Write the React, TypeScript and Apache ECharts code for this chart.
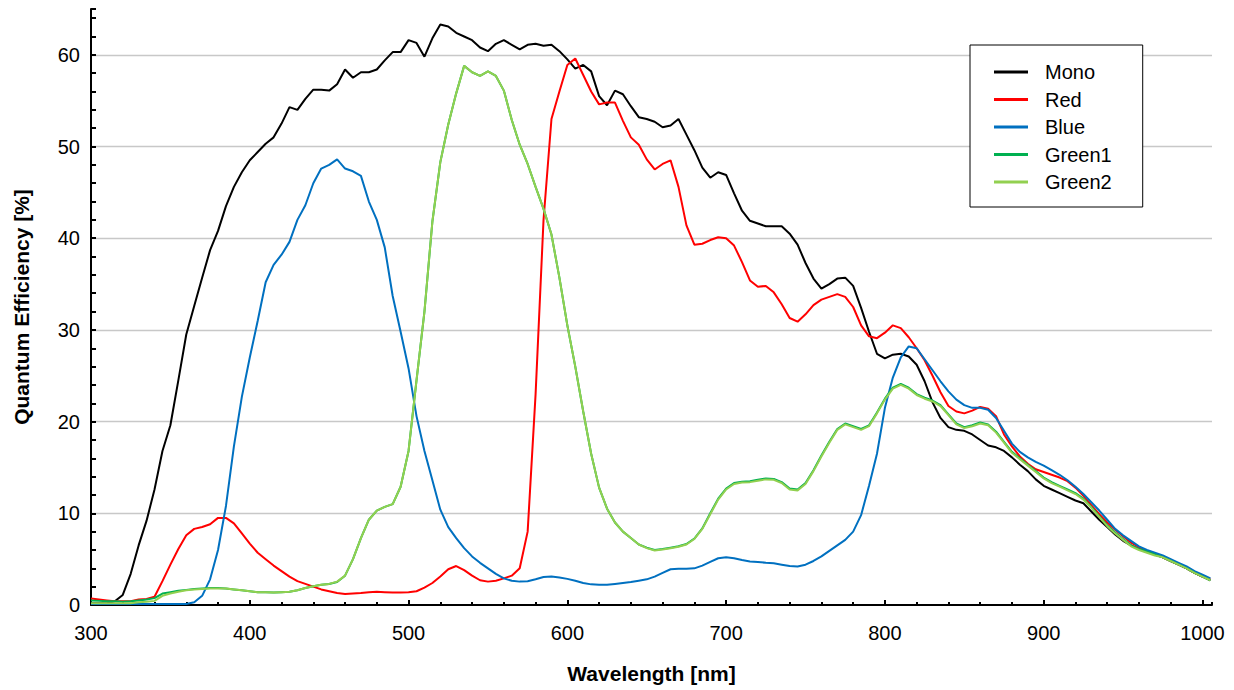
import React, { useEffect, useRef } from "react";
import * as echarts from "echarts";

const wavelengths = [
  300, 305, 310, 315, 320, 325, 330, 335, 340, 345, 350, 355, 360, 365, 370, 375, 380, 385, 390, 395,
  400, 405, 410, 415, 420, 425, 430, 435, 440, 445, 450, 455, 460, 465, 470, 475, 480, 485, 490, 495,
  500, 505, 510, 515, 520, 525, 530, 535, 540, 545, 550, 555, 560, 565, 570, 575, 580, 585, 590, 595,
  600, 605, 610, 615, 620, 625, 630, 635, 640, 645, 650, 655, 660, 665, 670, 675, 680, 685, 690, 695,
  700, 705, 710, 715, 720, 725, 730, 735, 740, 745, 750, 755, 760, 765, 770, 775, 780, 785, 790, 795,
  800, 805, 810, 815, 820, 825, 830, 835, 840, 845, 850, 855, 860, 865, 870, 875, 880, 885, 890, 895,
  900, 905, 910, 915, 920, 925, 930, 935, 940, 945, 950, 955, 960, 965, 970, 975, 980, 985, 990, 995,
  1000, 1005,
];

const mono = [
  0.2, 0.2, 0.2, 0.4, 1.1, 3.4, 6.5, 9.2, 12.6, 16.8, 19.6, 24.5, 29.5, 32.6, 35.7, 38.7, 40.8, 43.5, 45.6, 47.2,
  48.5, 49.4, 50.3, 51.0, 52.5, 54.3, 54.0, 55.2, 56.2, 56.2, 56.1, 56.8, 58.4, 57.5, 58.1, 58.1, 58.4, 59.4, 60.3, 60.3,
  61.6, 61.3, 59.8, 61.8, 63.3, 63.1, 62.4, 62.0, 61.6, 60.8, 60.4, 61.2, 61.6, 61.1, 60.6, 61.1, 61.2, 61.0, 61.1, 60.4,
  59.5, 58.5, 58.9, 58.2, 55.5, 54.5, 56.1, 55.7, 54.4, 53.2, 53.0, 52.7, 52.1, 52.3, 53.0, 51.3, 49.6, 47.7, 46.6, 47.2,
  46.9, 44.9, 43.0, 41.9, 41.6, 41.3, 41.3, 41.3, 40.5, 39.3, 37.3, 35.6, 34.5, 35.0, 35.6, 35.7, 34.8, 32.4, 29.8, 27.4,
  26.9, 27.3, 27.4, 27.1, 26.2, 24.4, 22.1, 20.4, 19.4, 19.1, 19.0, 18.6, 18.0, 17.4, 17.2, 16.8, 16.1, 15.3, 14.6, 13.7,
  13.0, 12.6, 12.2, 11.8, 11.4, 11.1, 10.2, 9.3, 8.5, 7.7, 7.0, 6.5, 6.1, 5.8, 5.5, 5.2, 4.8, 4.4, 4.0, 3.5,
  3.1, 2.7,
];

const red = [
  0.7, 0.6, 0.5, 0.4, 0.4, 0.4, 0.6, 0.65, 0.9, 2.6, 4.4, 6.1, 7.6, 8.3, 8.5, 8.8, 9.5, 9.5, 8.9, 7.8,
  6.7, 5.7, 5.0, 4.3, 3.7, 3.1, 2.6, 2.3, 2.0, 1.7, 1.5, 1.3, 1.2, 1.25, 1.3, 1.4, 1.45, 1.4, 1.35, 1.35,
  1.4, 1.5, 1.9, 2.4, 3.1, 3.9, 4.25, 3.8, 3.2, 2.7, 2.55, 2.65, 2.9, 3.2, 4.0, 8.0, 23.0, 42.0, 53.0, 56.0,
  58.9, 59.6, 57.8, 56.0, 54.6, 54.8, 54.8, 52.8, 51.0, 50.2, 48.6, 47.5, 48.1, 48.5, 45.6, 41.4, 39.3, 39.4, 39.8, 40.1,
  40.0, 39.2, 37.4, 35.4, 34.7, 34.8, 34.1, 32.8, 31.3, 30.9, 31.7, 32.7, 33.3, 33.6, 33.9, 33.6, 32.5, 30.5, 29.3, 29.1,
  29.7, 30.5, 30.2, 29.2, 28.0, 26.7, 25.0, 23.2, 21.7, 21.1, 20.9, 21.2, 21.6, 21.4, 20.6, 18.6, 17.3, 16.2, 15.4, 14.8,
  14.5, 14.2, 13.9, 13.5, 12.8, 11.9, 10.9, 9.9, 9.0, 8.2, 7.5, 6.8, 6.3, 5.9, 5.6, 5.2, 4.8, 4.4, 4.0, 3.5,
  3.1, 2.8,
];

const blue = [
  0.1, 0.1, 0.1, 0.1, 0.1, 0.1, 0.1, 0.1, 0.1, 0.1, 0.1, 0.1, 0.1, 0.3, 1.0, 2.8, 6.0, 10.8, 17.3, 22.7,
  27.0, 31.0, 35.2, 37.1, 38.2, 39.6, 42.0, 43.6, 46.0, 47.6, 48.0, 48.6, 47.6, 47.3, 46.8, 44.0, 42.0, 39.0, 33.7, 29.8,
  25.8, 20.6, 16.8, 13.6, 10.4, 8.5, 7.3, 6.2, 5.3, 4.6, 4.0, 3.4, 2.9, 2.65, 2.55, 2.6, 2.8, 3.05, 3.1, 3.0,
  2.85, 2.65, 2.4, 2.25, 2.2, 2.2, 2.3, 2.4, 2.5, 2.65, 2.8, 3.1, 3.5, 3.9, 3.95, 3.95, 4.0, 4.3, 4.7, 5.1,
  5.2, 5.1, 4.9, 4.75, 4.7, 4.6, 4.55, 4.4, 4.25, 4.2, 4.4, 4.8, 5.3, 5.9, 6.5, 7.1, 8.0, 9.8, 13.0, 16.5,
  21.5, 24.8, 27.0, 28.2, 28.0, 26.8, 25.6, 24.4, 23.3, 22.4, 21.8, 21.5, 21.5, 21.3, 20.4, 19.0, 17.6, 16.7, 16.1, 15.6,
  15.2, 14.7, 14.2, 13.6, 12.9, 12.1, 11.2, 10.3, 9.3, 8.3, 7.6, 7.0, 6.4, 6.0, 5.7, 5.4, 5.0, 4.6, 4.2, 3.7,
  3.3, 2.9,
];

const green1 = [
  0.5, 0.45, 0.4, 0.4, 0.35, 0.4, 0.5, 0.6, 0.75, 1.25, 1.4, 1.55, 1.65, 1.75, 1.8, 1.85, 1.85, 1.8, 1.7, 1.6,
  1.5, 1.4, 1.4, 1.35, 1.4, 1.45, 1.6, 1.85, 2.05, 2.2, 2.3, 2.5, 3.2, 5.0, 7.3, 9.3, 10.3, 10.7, 11.0, 12.9,
  16.8, 24.5, 32.0, 41.8, 48.3, 52.4, 55.8, 58.8, 58.1, 57.7, 58.2, 57.7, 56.1, 52.9, 50.2, 48.1, 45.6, 43.2, 40.4, 35.7,
  30.5, 26.0, 21.1, 16.5, 12.8, 10.5, 9.0, 8.0, 7.3, 6.6, 6.25, 6.0, 6.1, 6.25, 6.4, 6.65, 7.25, 8.35, 10.0, 11.6,
  12.7, 13.3, 13.45, 13.5, 13.65, 13.8, 13.75, 13.4, 12.7, 12.6, 13.3, 14.7, 16.3, 17.8, 19.2, 19.8, 19.5, 19.2, 19.6, 21.0,
  22.5, 23.7, 24.1, 23.7, 23.0, 22.6, 22.3, 21.8, 20.8, 19.8, 19.4, 19.6, 19.9, 19.7, 18.9, 17.8, 16.7, 16.0, 15.3, 14.6,
  13.9, 13.4, 13.0, 12.6, 12.2, 11.6, 10.7, 9.7, 8.7, 7.9, 7.2, 6.5, 6.1, 5.8, 5.5, 5.2, 4.8, 4.4, 4.0, 3.5,
  3.1, 2.7,
];

const green2 = [
  0.2, 0.2, 0.2, 0.2, 0.2, 0.2, 0.3, 0.35, 0.45, 1.0, 1.25, 1.45, 1.6, 1.7, 1.75, 1.8, 1.8, 1.8, 1.7, 1.6,
  1.5, 1.4, 1.4, 1.35, 1.4, 1.45, 1.6, 1.85, 2.05, 2.2, 2.3, 2.55, 3.2, 5.0, 7.3, 9.3, 10.3, 10.7, 11.0, 12.9,
  16.8, 24.5, 32.0, 41.8, 48.3, 52.4, 55.8, 58.8, 58.1, 57.7, 58.2, 57.7, 56.1, 52.9, 50.2, 48.1, 45.6, 43.2, 40.4, 35.7,
  30.5, 26.0, 21.1, 16.5, 12.8, 10.5, 9.0, 8.0, 7.3, 6.6, 6.2, 5.95, 6.05, 6.2, 6.35, 6.6, 7.2, 8.3, 9.9, 11.5,
  12.6, 13.2, 13.35, 13.4, 13.55, 13.7, 13.65, 13.3, 12.6, 12.5, 13.2, 14.6, 16.2, 17.7, 19.1, 19.7, 19.4, 19.1, 19.5, 20.9,
  22.4, 23.6, 24.0, 23.6, 22.9, 22.5, 22.2, 21.7, 20.7, 19.7, 19.3, 19.5, 19.8, 19.6, 18.8, 17.7, 16.6, 15.9, 15.2, 14.5,
  13.8, 13.3, 12.9, 12.5, 12.1, 11.5, 10.6, 9.6, 8.6, 7.8, 7.1, 6.4, 6.0, 5.7, 5.4, 5.2, 4.8, 4.4, 4.0, 3.5,
  3.1, 2.7,
];

const seriesNames = ["Mono", "Red", "Blue", "Green1", "Green2"];
const seriesColors = ["#000000", "#ff0000", "#0070c0", "#00b050", "#92d050"];
const seriesValues = [mono, red, blue, green1, green2];

const xTickLabels = [300, 400, 500, 600, 700, 800, 900, 1000];
const yTickLabels = [0, 10, 20, 30, 40, 50, 60];

const FONT = "'Liberation Sans', Arial, Helvetica, sans-serif";

export default function App() {
  const ref = useRef<HTMLDivElement>(null);

  useEffect(() => {
    document.body.style.margin = "0";
    if (!ref.current) return;
    const chart = echarts.init(ref.current, null, { renderer: "svg" });

    const series = seriesNames.map((name, i) => ({
      name,
      type: "line",
      xAxisIndex: 0,
      yAxisIndex: 0,
      data: wavelengths.map((w, j) => [w, seriesValues[i][j]]),
      symbol: "none",
      showSymbol: false,
      lineStyle: { color: seriesColors[i], width: 2 },
      itemStyle: { color: seriesColors[i] },
      z: 2 + i,
    }));

    chart.setOption({
      animation: false,
      backgroundColor: "#ffffff",
      textStyle: { fontFamily: FONT },
      grid: { left: 91, right: 22, top: 9, bottom: 85, containLabel: false },
      legend: {
        orient: "vertical",
        left: 970,
        top: 45,
        data: seriesNames.map((n) => ({ name: n, icon: "rect" })),
        itemWidth: 34,
        itemHeight: 3,
        itemGap: 7.5,
        padding: [17, 31, 15, 24],
        borderColor: "#000000",
        borderWidth: 1,
        backgroundColor: "#ffffff",
        textStyle: { fontSize: 20, color: "#000000", fontFamily: FONT, padding: [0, 0, 0, 12] },
        selectedMode: false,
      },
      xAxis: [
        {
          type: "value",
          min: 300,
          max: 1006,
          interval: 100,
          name: "Wavelength [nm]",
          nameLocation: "middle",
          nameGap: 58,
          nameTextStyle: { fontSize: 21, fontWeight: "bold", color: "#000000", fontFamily: FONT },
          axisLine: { show: true, onZero: false, lineStyle: { color: "#000000", width: 2 } },
          axisTick: { show: true, inside: true, length: 5, lineStyle: { color: "#000000", width: 2 } },
          axisLabel: {
            show: true,
            margin: 18,
            fontSize: 20,
            color: "#000000",
            fontFamily: FONT,
            showMaxLabel: false,
            formatter: (v: number) => (xTickLabels.indexOf(v) >= 0 ? String(v) : ""),
          },
          splitLine: { show: false },
        },
        {
          type: "value",
          min: 300,
          max: 1006,
          interval: 20,
          position: "bottom",
          axisLine: { show: false, onZero: false },
          axisTick: { show: true, inside: true, length: 3, lineStyle: { color: "#000000", width: 2 } },
          axisLabel: { show: false },
          splitLine: { show: false },
        },
      ],
      yAxis: [
        {
          type: "value",
          min: 0,
          max: 65,
          interval: 10,
          name: "Quantum Efficiency [%]",
          nameLocation: "middle",
          nameGap: 59,
          nameTextStyle: { fontSize: 21, fontWeight: "bold", color: "#000000", fontFamily: FONT },
          axisLine: { show: true, onZero: false, lineStyle: { color: "#000000", width: 2 } },
          axisTick: { show: false },
          axisLabel: {
            show: true,
            margin: 11,
            fontSize: 20,
            color: "#000000",
            fontFamily: FONT,
            showMaxLabel: false,
            formatter: (v: number) => (yTickLabels.indexOf(v) >= 0 ? String(v) : ""),
          },
          splitLine: {
            show: true,
            showMinLine: false,
            showMaxLine: false,
            lineStyle: { color: "#c8c8c8", width: 1.3 },
          },
        },
        {
          type: "value",
          min: 0,
          max: 65,
          interval: 2,
          position: "left",
          axisLine: { show: false, onZero: false },
          axisTick: { show: true, inside: true, length: 5, lineStyle: { color: "#000000", width: 2 } },
          axisLabel: { show: false },
          splitLine: { show: false },
        },
      ],
      series,
    });

    return () => {
      chart.dispose();
    };
  }, []);

  return <div ref={ref} style={{ width: 1234, height: 690 }} />;
}
